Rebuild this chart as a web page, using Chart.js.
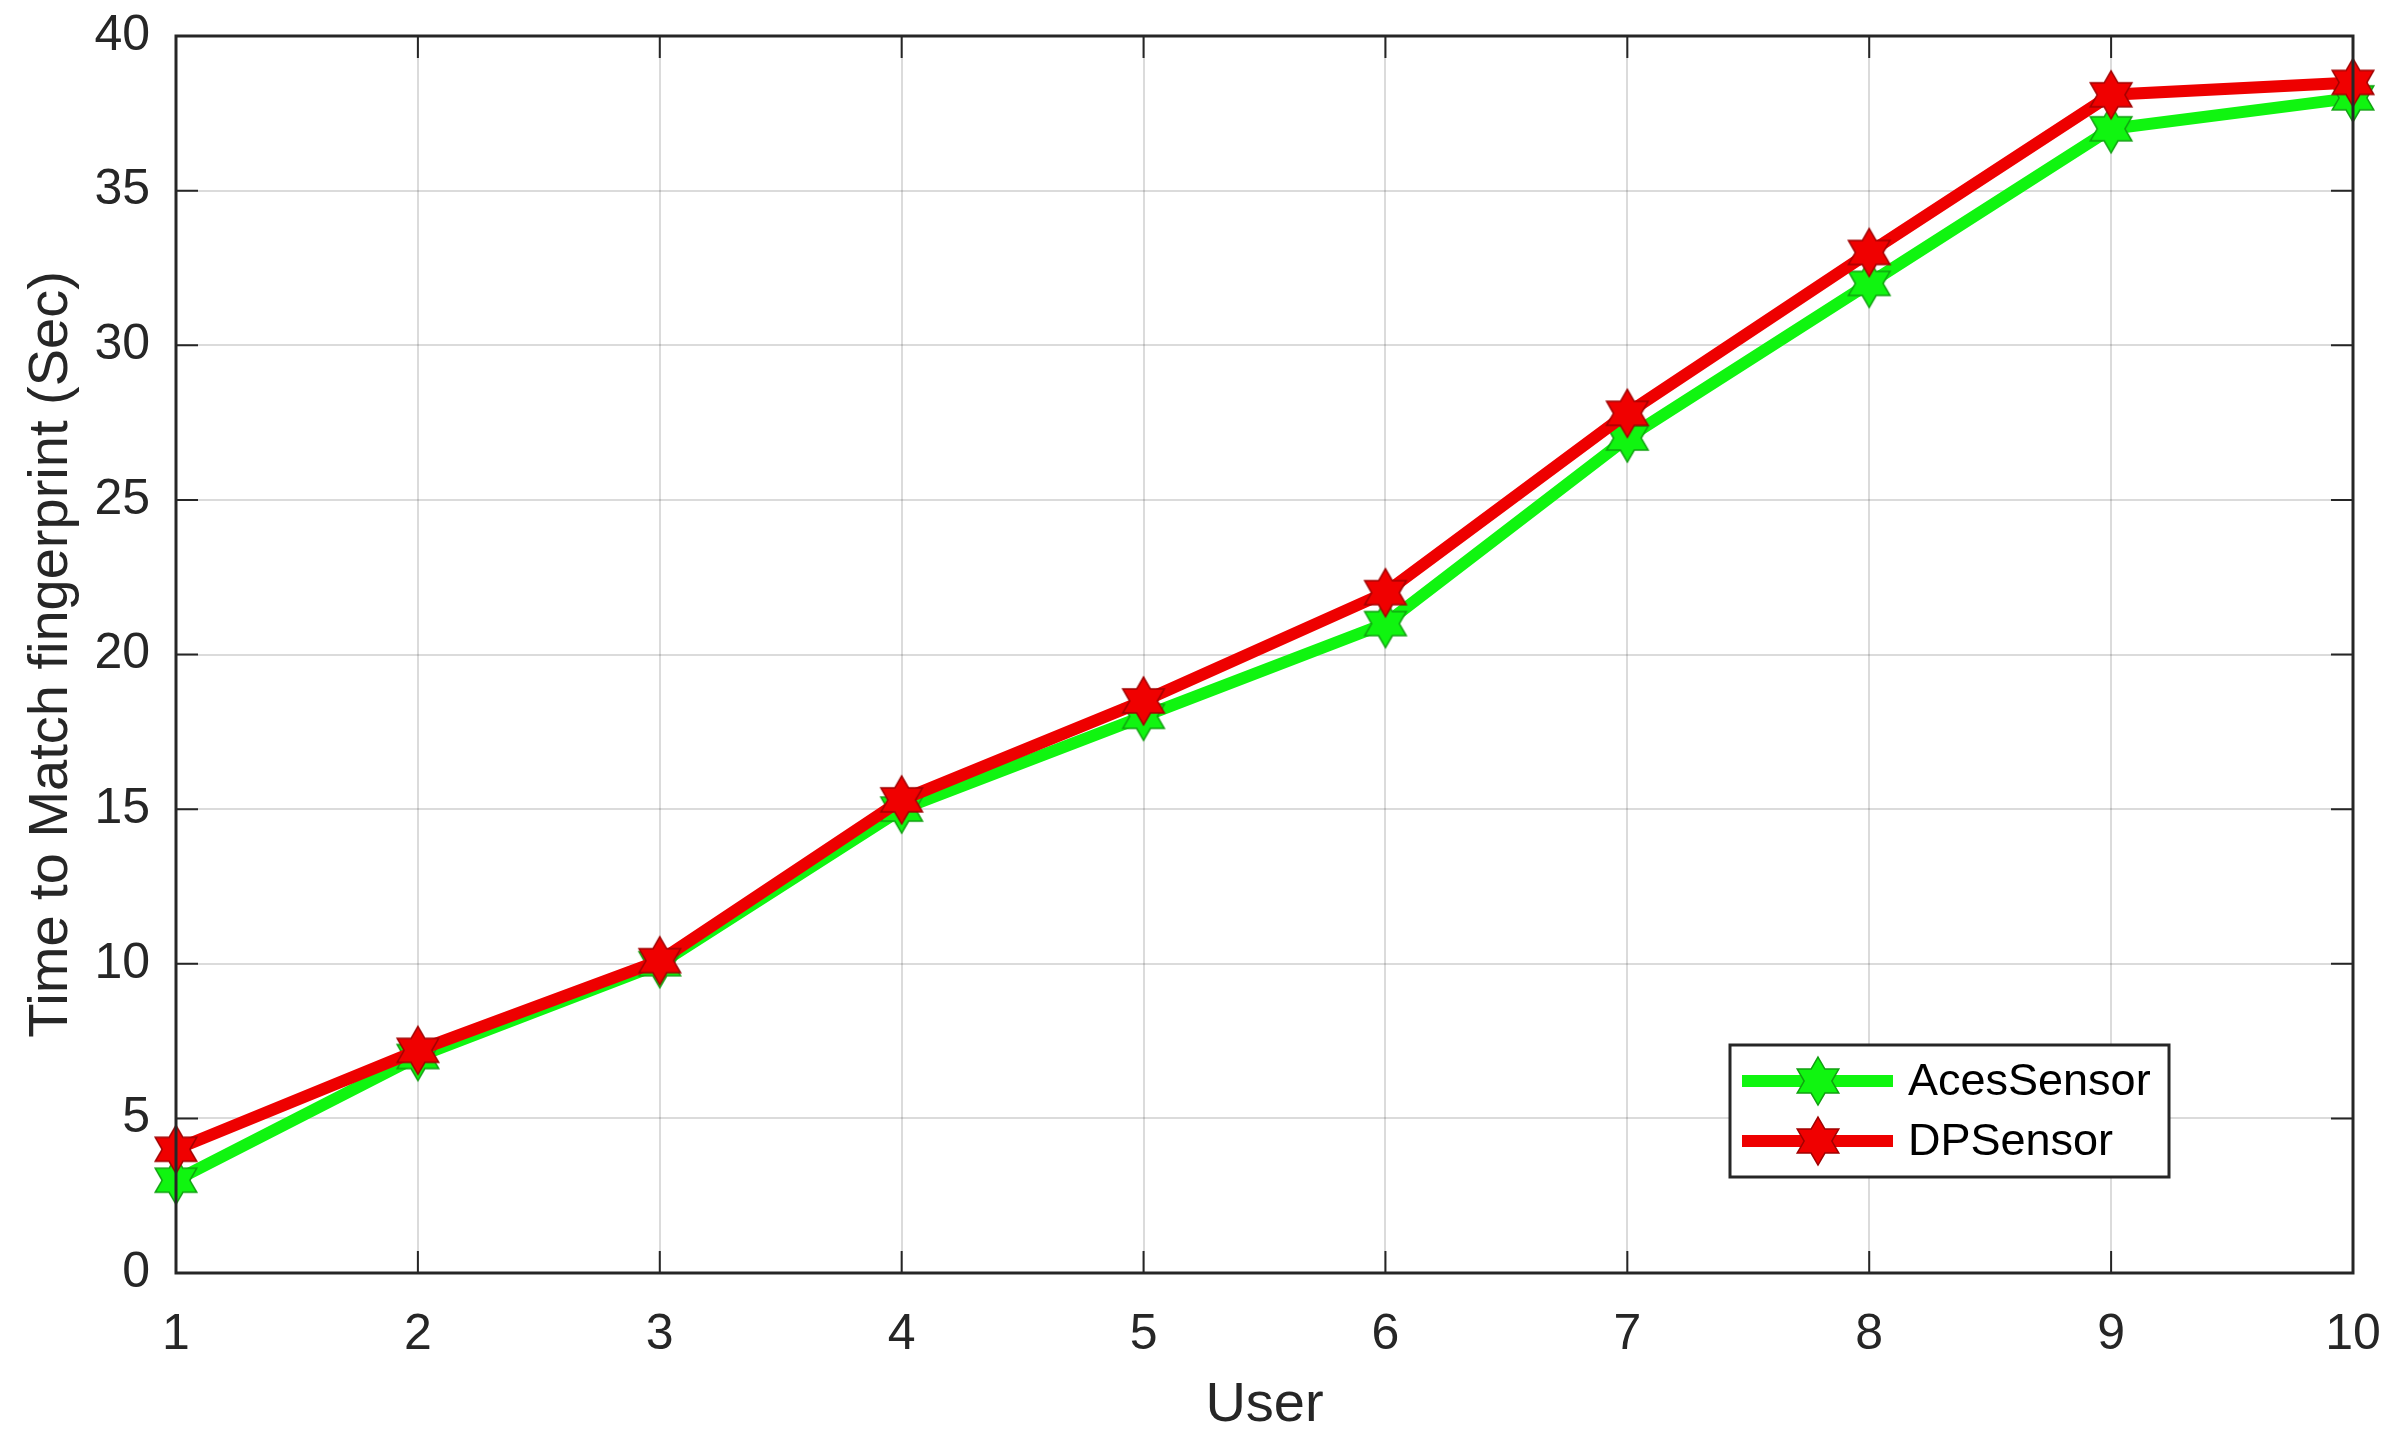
<!DOCTYPE html>
<html>
<head>
<meta charset="utf-8">
<script src="https://cdn.jsdelivr.net/npm/chart.js@4.4.1/dist/chart.umd.min.js"></script>
<style>
  html, body { margin: 0; padding: 0; background: #ffffff; }
  canvas { display: block; }
</style>
</head>
<body>
<canvas id="c" width="2400" height="1449"></canvas>
<script>
const users = ['1', '2', '3', '4', '5', '6', '7', '8', '9', '10'];
const acesSensor = [3, 7, 10, 15, 18, 21, 27, 32, 37, 38];
const dpSensor = [4, 7.2, 10.1, 15.3, 18.5, 22, 27.8, 33, 38.1, 38.5];
const yTicks = [0, 5, 10, 15, 20, 25, 30, 35, 40];

const FONT = '"Liberation Sans", Arial, sans-serif';
const TEXT = '#262626';

function hexagram(fill, edge, R) {
  const s = Math.ceil(2 * R + 6);
  const cv = document.createElement('canvas');
  cv.width = s; cv.height = s;
  const g = cv.getContext('2d');
  const c = s / 2, r = R / Math.sqrt(3);
  g.beginPath();
  for (let i = 0; i < 12; i++) {
    const a = -Math.PI / 2 + i * Math.PI / 6;
    const rr = i % 2 === 0 ? R : r;
    const x = c + rr * Math.cos(a), y = c + rr * Math.sin(a);
    if (i === 0) g.moveTo(x, y); else g.lineTo(x, y);
  }
  g.closePath();
  g.fillStyle = fill;
  g.fill();
  g.lineWidth = 1.5;
  g.strokeStyle = edge;
  g.stroke();
  return cv;
}

const greenStar = hexagram('#10f510', '#10a010', 24);
const redStar = hexagram('#f00000', '#a00000', 24);

function zeroPad(s) {
  s.paddingTop = 0; s.paddingBottom = 0; s.paddingLeft = 0; s.paddingRight = 0;
}

const boxPlugin = {
  id: 'matlabBox',
  afterDatasetsDraw(chart) {
    const { ctx, chartArea: a, scales } = chart;
    ctx.save();
    ctx.strokeStyle = TEXT;
    ctx.lineWidth = 2;
    const tl = 22;
    ctx.beginPath();
    scales.x.ticks.forEach((t, i) => {
      const x = scales.x.getPixelForTick(i);
      ctx.moveTo(x, a.bottom); ctx.lineTo(x, a.bottom - tl);
      ctx.moveTo(x, a.top); ctx.lineTo(x, a.top + tl);
    });
    yTicks.forEach(v => {
      const y = scales.y.getPixelForValue(v);
      ctx.moveTo(a.left, y); ctx.lineTo(a.left + tl, y);
      ctx.moveTo(a.right, y); ctx.lineTo(a.right - tl, y);
    });
    ctx.stroke();
    ctx.lineWidth = 3;
    ctx.strokeRect(a.left, a.top, a.right - a.left, a.bottom - a.top);
    ctx.restore();
  },
  afterDraw(chart) {
    const { ctx, chartArea: a } = chart;
    const bx = a.right - 623, by = a.bottom - 228, bw = 439, bh = 132;
    ctx.save();
    ctx.fillStyle = '#ffffff';
    ctx.fillRect(bx, by, bw, bh);
    ctx.strokeStyle = TEXT;
    ctx.lineWidth = 3;
    ctx.strokeRect(bx, by, bw, bh);
    const rows = chart.data.datasets.slice().sort((p, q) => q.order - p.order);
    rows.forEach((ds, i) => {
      const y = by + 36 + i * 60;
      ctx.strokeStyle = ds.borderColor;
      ctx.lineWidth = ds.borderWidth;
      ctx.beginPath();
      ctx.moveTo(bx + 12, y); ctx.lineTo(bx + 163, y);
      ctx.stroke();
      const img = ds.pointStyle;
      ctx.drawImage(img, bx + 88 - img.width / 2, y - img.height / 2);
      ctx.fillStyle = '#000000';
      ctx.font = '45px ' + FONT;
      ctx.textAlign = 'left';
      ctx.textBaseline = 'middle';
      ctx.fillText(ds.label, bx + 178, y + 2);
    });
    ctx.restore();
  }
};

new Chart(document.getElementById('c'), {
  type: 'line',
  data: {
    labels: users,
    datasets: [
      {
        label: 'AcesSensor',
        data: acesSensor,
        borderColor: '#10f510',
        borderWidth: 12,
        pointStyle: greenStar,
        pointRadius: 24,
        order: 2,
        tension: 0
      },
      {
        label: 'DPSensor',
        data: dpSensor,
        borderColor: '#ee0000',
        borderWidth: 12,
        pointStyle: redStar,
        pointRadius: 24,
        order: 1,
        tension: 0
      }
    ]
  },
  options: {
    responsive: false,
    animation: false,
    devicePixelRatio: 1,
    layout: { padding: { top: 30, right: 47, left: 0, bottom: 0 } },
    plugins: {
      legend: { display: false },
      tooltip: { enabled: false }
    },
    scales: {
      x: {
        type: 'category',
        offset: false,
        afterFit(s) { s.height = 176; zeroPad(s); },
        grid: { color: 'rgba(0,0,0,0.14)', lineWidth: 2, drawTicks: false },
        border: { display: false },
        ticks: { color: TEXT, font: { family: FONT, size: 50 }, padding: 32, maxRotation: 0 },
        title: { display: true, text: 'User', color: TEXT, font: { family: FONT, size: 56 }, padding: { top: 0, bottom: 10 } }
      },
      y: {
        min: 0,
        max: 40,
        afterFit(s) { s.width = 176; zeroPad(s); },
        afterBuildTicks(s) { s.ticks = yTicks.map(v => ({ value: v })); },
        grid: { color: 'rgba(0,0,0,0.14)', lineWidth: 2, drawTicks: false },
        border: { display: false },
        ticks: { color: TEXT, font: { family: FONT, size: 50 }, padding: 26 },
        title: { display: true, text: 'Time to Match fingerprint (Sec)', color: TEXT, font: { family: FONT, size: 56 }, padding: { top: 18, bottom: 0 } }
      }
    }
  },
  plugins: [boxPlugin]
});
</script>
</body>
</html>
